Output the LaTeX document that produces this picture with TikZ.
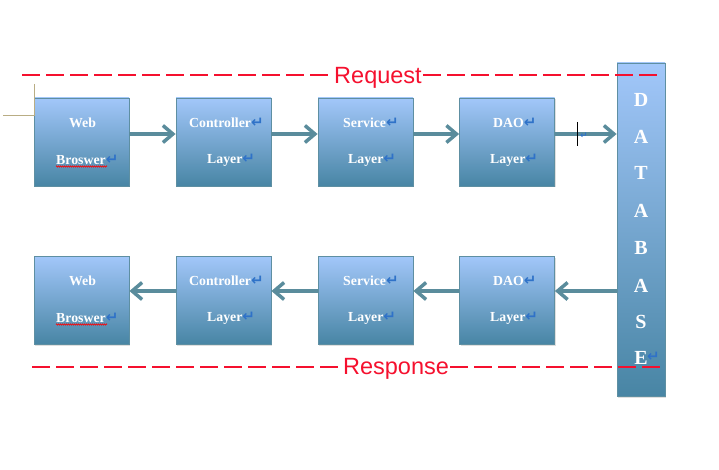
\documentclass[tikz,border=0pt]{standalone}
\usepackage{fontspec}
\setmainfont{Liberation Serif}
\newfontfamily\symfont{DejaVu Sans}
\newfontfamily\headfont{Liberation Sans}
\usetikzlibrary{arrows.meta,shadows,decorations.pathmorphing}

\definecolor{boxtop}{HTML}{A2C7FA}
\definecolor{boxbot}{HTML}{4885A4}
\definecolor{boxline}{HTML}{5E8FA2}
\definecolor{flowcol}{HTML}{5A8C9C}
\definecolor{reqred}{HTML}{F5102E}
\definecolor{retblue}{HTML}{2F72C8}
\definecolor{markcol}{HTML}{B9AD84}

\newcommand{\ret}{{\symfont\bfseries\color{retblue}\fontsize{15}{15}\selectfont ↵}}

\tikzset{
  layerbox/.style={draw=boxline, line width=0.8pt, top color=boxtop, bottom color=boxbot,
    minimum width=95pt, minimum height=88pt, inner sep=0pt,
    drop shadow={shadow xshift=1pt, shadow yshift=-1.5pt, opacity=0.25}},
  dbbox/.style={layerbox, minimum width=48pt, minimum height=333pt},
  txt/.style={text=white, font=\bfseries\fontsize{13.8}{14}\selectfont, inner sep=0pt, anchor=west},
  dbtxt/.style={text=white, font=\bfseries\fontsize{20}{20}\selectfont, inner sep=0pt},
  flow/.style={draw=flowcol, line width=3.5pt, -{Straight Barb[length=10pt, width=17pt, line width=3.5pt]}},
  redline/.style={draw=reqred, line width=1.6pt, dash pattern=on 18pt off 6pt},
  headtxt/.style={text=reqred, font=\headfont\fontsize{23.5}{24}\selectfont, inner sep=1pt, anchor=base},
  squiggle/.style={draw=red, line width=0.5pt, decorate,
    decoration={zigzag, amplitude=0.7pt, segment length=2pt}}
}

\begin{document}
\begin{tikzpicture}[x=1pt, y=-1pt]
    \useasboundingbox (0,0) rectangle (719,470);

    % the database column
    \node[dbbox] (db) at (641,229.5) {};
    \foreach \l/\y in {D/100, A/137, T/173, A/211, B/248, A/286, S/322, E/358}
    \node[dbtxt] at (641,\y) {\l};
    \node[anchor=west, inner sep=0pt] at (647,357) {\ret};

    % the request row
    \node[layerbox] (web1) at (81.5,142) {};
    \node[layerbox] (ctrl1) at (223.5,142) {};
    \node[layerbox] (serv1) at (365.5,142) {};
    \node[layerbox] (dao1) at (507,142) {};

    % the response row
    \node[layerbox] (web2) at (81.5,300) {};
    \node[layerbox] (ctrl2) at (223.5,300) {};
    \node[layerbox] (serv2) at (365.5,300) {};
    \node[layerbox] (dao2) at (507,300) {};

    % the texts in the boxes
    \foreach \dy in {0,158} {
        \node[txt] at (69,123+\dy) {Web};
        \node[txt] at (56,160+\dy) {Broswer\ret};
        \draw[squiggle] (56,166.5+\dy) -- (107,166.5+\dy);
        \node[txt] at (189,123+\dy) {Controller\ret};
        \node[txt] at (207,160+\dy) {Layer\ret};
        \node[txt] at (343,123+\dy) {Service\ret};
        \node[txt] at (348,160+\dy) {Layer\ret};
        \node[txt] at (493,123+\dy) {DAO\ret};
        \node[txt] at (490,160+\dy) {Layer\ret};
    }

    % arrows of the request row
    \draw[flow] ([yshift=8pt]web1.east) -- ([yshift=8pt]ctrl1.west);
    \draw[flow] ([yshift=8pt]ctrl1.east) -- ([yshift=8pt]serv1.west);
    \draw[flow] ([yshift=8pt]serv1.east) -- ([yshift=8pt]dao1.west);
    \draw[flow] ([yshift=8pt]dao1.east) -- ([yshift=8pt]dao1.east -| db.west);

    % arrows of the response row
    \draw[flow] ([yshift=9pt]dao2.east -| db.west) -- ([yshift=9pt]dao2.east);
    \draw[flow] ([yshift=9pt]dao2.west) -- ([yshift=9pt]serv2.east);
    \draw[flow] ([yshift=9pt]serv2.west) -- ([yshift=9pt]ctrl2.east);
    \draw[flow] ([yshift=9pt]ctrl2.west) -- ([yshift=9pt]web2.east);

    % the cursor and the hidden mark after DAO
    \draw[black, line width=0.6pt] (577,122) -- (577,146);
    \node[inner sep=0pt, scale=0.6] at (584,136) {\ret};

    % the corner mark at the top left
    \draw[markcol, line width=0.6pt] (34,84) -- (34,115) -- (3,115);

    % the request line
    \node[headtxt] (req) at (378,83.5) {Request};
    \coordinate (reqA) at (22,75);
    \coordinate (reqB) at (659,75);
    \draw[redline] (reqA) -- (reqA -| req.west);
    \draw[redline] (reqB -| req.east) -- (reqB);

    % the response line
    \node[headtxt] (resp) at (396,374) {Response};
    \coordinate (respA) at (32,367);
    \coordinate (respB) at (663,367);
    \draw[redline] (respA) -- (respA -| resp.west);
    \draw[redline] (respB -| resp.east) -- (respB);
\end{tikzpicture}
\end{document}
